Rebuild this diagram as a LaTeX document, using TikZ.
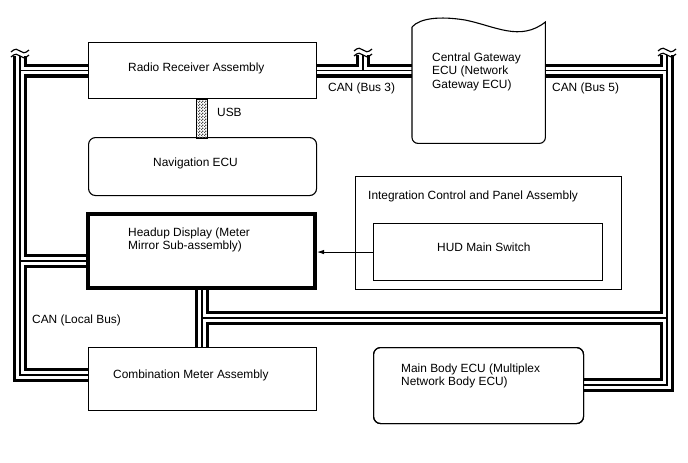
\documentclass[tikz,border=0pt]{standalone}
\usepackage{fontspec}
\setmainfont{Liberation Sans}
\usetikzlibrary{arrows.meta,patterns}
\pgfdeclarepatternformonly{finechk}{\pgfqpoint{0pt}{0pt}}{\pgfqpoint{3pt}{3pt}}{\pgfqpoint{3pt}{3pt}}{%
  \pgfpathrectangle{\pgfpointorigin}{\pgfqpoint{1.5pt}{1.5pt}}%
  \pgfpathrectangle{\pgfqpoint{1.5pt}{1.5pt}}{\pgfqpoint{1.5pt}{1.5pt}}%
  \pgfusepath{fill}}
\newcommand\mybuses[1]{%
  \draw[#1] (Ltop) -- (Lbot) -- (Lbot -| comb.west);
  \draw[#1] (Ltop |- radio.west) -- (radio.west);
  \draw[#1] (Ltop |- hudL) -- (hudL);
  \draw[#1] (radio.east) -- (gw.west |- radio.east);
  \draw[#1] (Mtop) -- (Mtop |- radio.east);
  \draw[#1] (gw.east |- radio.east) -- (Rtop |- radio.east);
  \draw[#1] (Rtop) -- (Rbot) -- (Rbot -| mainbody.east);
  \draw[#1] (hud.south -| V) -- (comb.north -| V);
  \draw[#1] (V) -- (V -| Rtop);
}
\begin{document}
\begin{tikzpicture}[x=1pt,y=-1pt,
  box/.style={draw, line width=1.1pt, inner sep=0pt, anchor=north west},
  rbox/.style={box, rounded corners=7pt},
  txt/.style={inner sep=0pt, anchor=base west, font=\fontsize{11.9}{13.5}\selectfont},
  mtxt/.style={inner sep=0pt, anchor=north west, align=left, font=\fontsize{11.9}{13.5}\selectfont},
  brk/.pic={
    \draw[line width=1.2pt] (-9,1) .. controls (-5,-3) and (-2,-2) .. (0,0) .. controls (2,2) and (5,3) .. (9,-1);
    \draw[line width=1.2pt] (-9,-4) .. controls (-5,-8) and (-2,-7) .. (0,-5) .. controls (2,-3) and (5,-2) .. (9,-6);
  }]
\useasboundingbox (0,0) rectangle (688,463);

% nodes (boxes)
\node[box, minimum width=228pt, minimum height=56pt] (radio) at (88,42) {};
\node[rbox, minimum width=228pt, minimum height=58pt] (nav) at (88,137) {};
\node[box, line width=4pt, minimum width=227pt, minimum height=74pt] (hud) at (86,212) {};
\node[box, minimum width=228pt, minimum height=63pt] (comb) at (88,347) {};
\node[inner sep=0pt, anchor=north west, minimum width=133pt, minimum height=121pt] (gw) at (412,22) {};
\node[box, minimum width=266pt, minimum height=113pt] (integ) at (355,176) {};
\node[box, minimum width=229pt, minimum height=57pt] (hudsw) at (373,223) {};
\node[rbox, minimum width=210pt, minimum height=76pt] (mainbody) at (373,347) {};

% bus coordinates
\coordinate (Ltop) at (20,56);
\coordinate (Lbot) at (20,375);
\coordinate (hudL) at (86,261);
\coordinate (Mtop) at (363,55);
\coordinate (Rtop) at (667,55);
\coordinate (Rbot) at (667,385);
\coordinate (V) at (202,318);

\mybuses{line width=14pt, black}
\mybuses{line width=7.4pt, white}
\mybuses{line width=1.1pt, black}

% redraw box borders on top
\node[box, minimum width=228pt, minimum height=56pt] at (88,42) {};
\node[box, line width=4pt, minimum width=227pt, minimum height=74pt] at (86,212) {};
\node[box, minimum width=228pt, minimum height=63pt] at (88,347) {};
\node[rbox, minimum width=210pt, minimum height=76pt] at (373,347) {};

% gateway shape
\draw[line width=1.1pt] (gw.north west |- 0,27)
  .. controls (420,18) and (440,16) .. (465,20)
  .. controls (495,26) and (520,42) .. (gw.north east)
  [rounded corners=6pt] -- (gw.south east) -- (gw.south west) -- (gw.north west |- 0,27);

% USB link
\node[draw, line width=0.9pt, pattern=finechk, pattern color=black!70, inner sep=0pt,
      minimum width=11pt, minimum height=39pt, anchor=north] (usb) at (radio.south -| 201.5,0) {};

% break marks
\pic at (Ltop) {brk};
\pic at (Mtop) {brk};
\pic at (Rtop) {brk};

% arrow
\draw[line width=0.9pt, -{Latex[length=7pt,width=4.5pt]}] (hudsw.west) -- (hudsw.west -| hud.east);

% texts
\node[txt] (t1) at (128,71.3) {Radio Receiver Assembly};
\node[txt] (t2) at (217,116.3) {USB};
\node[txt] (t3) at (153,166.3) {Navigation ECU};
\node[mtxt] (t4) at (128,227.5) {Headup Display (Meter\\Mirror Sub-assembly)};
\node[txt] (t5) at (368,199.3) {Integration Control and Panel Assembly};
\node[txt] (t6) at (437,251.3) {HUD Main Switch};
\node[txt] (t7) at (32,323.3) {CAN (Local Bus)};
\node[txt] (t8) at (113,378.3) {Combination Meter Assembly};
\node[mtxt] (t9) at (401,363.5) {Main Body ECU (Multiplex\\Network Body ECU)};
\node[mtxt] (t10) at (432,52.5) {Central Gateway\\ECU (Network\\Gateway ECU)};
\node[txt] (t11) at (328,91.3) {CAN (Bus 3)};
\node[txt] (t12) at (552,91.3) {CAN (Bus 5)};
\end{tikzpicture}
\end{document}
